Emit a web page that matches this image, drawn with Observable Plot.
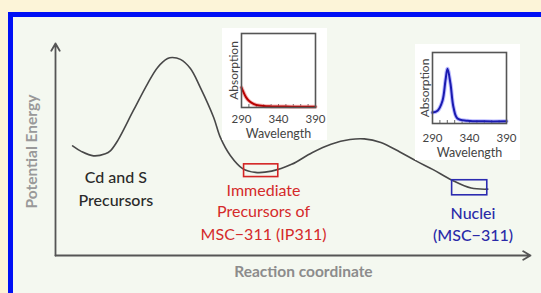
<!DOCTYPE html>
<html>
<head>
<meta charset="utf-8">
<script src="https://cdn.jsdelivr.net/npm/d3@7"></script>
<script src="https://cdn.jsdelivr.net/npm/@observablehq/plot@0.6"></script>
<style>
  html, body { margin: 0; padding: 0; }
  body { width: 541px; height: 293px; overflow: hidden; position: relative; background: #fcf4d8; font-family: Lato, "Open Sans", sans-serif; }
  #panel { position: absolute; left: 8px; top: 12px; width: 700px; height: 400px; border-left: 5px solid #0010f5; border-top: 5px solid #0010f5; background: #f4f8f0; }
  .abs { position: absolute; }
</style>
</head>
<body>
<div id="panel"></div>
<div id="main" class="abs" style="left:0;top:0"></div>
<div id="inset1" class="abs" style="left:222px;top:28px"></div>
<div id="inset2" class="abs" style="left:415px;top:44px"></div>
<script>
// ---- main energy profile (arbitrary units 0-100) ----
const reactionCoord = [3.6, 5.5, 8, 10.5, 11.6, 13.1, 16.4, 19.4, 21.5, 23.6, 24.6, 26.3, 28.4, 30.5, 33.3, 34.7, 36.8, 39.4, 42.1, 45.5, 49.7, 54, 58, 62, 65, 68.5, 72.5, 76, 79.5, 83.5, 87.5, 91];
const potentialEnergy = [51.7, 49, 47, 48, 49.5, 54.2, 68.4, 81.1, 88.7, 92.9, 93.4, 92.5, 88.2, 79.2, 65.1, 55.7, 47.2, 41, 39.2, 39.8, 43, 48.5, 52.5, 54.7, 55, 53.3, 48.8, 44.5, 40.5, 35.5, 31.8, 31.3];

// highlighted states (boxes)
const stateNames = ["IP311", "MSC-311"];
const stateX1 = [39.7, 83.5];
const stateX2 = [46.9, 90.9];
const stateY1 = [37, 28.4];
const stateY2 = [43, 35.5];
const stateColors = ["#d42424", "#2b2bb0"];

// labels
const leftLabel = ["Cd and S", "Precursors"];
const leftLabelX = [12.7, 12.7];
const leftLabelY = [36.8, 25.9];
const ipLabel = ["Immediate", "Precursors of", "MSC−311 (IP311)"];
const ipLabelX = [43.8, 43.8, 43.8];
const ipLabelY = [30.7, 20.8, 9.9];
const nucLabel = ["Nuclei", "(MSC−311)"];
const nucLabelX = [87.9, 87.9];
const nucLabelY = [19.8, 9.4];

// ---- inset spectra ----
const ipWavelength = [290, 293, 296, 300, 305, 310, 320, 330, 350, 370, 390];
const ipAbsorption = [0.27, 0.2, 0.14, 0.09, 0.055, 0.035, 0.02, 0.015, 0.012, 0.01, 0.01];
const mscWavelength = [290, 296.8, 303.5, 307.6, 310.3, 314.3, 318.4, 323.8, 337.3, 360, 390];
const mscAbsorption = [0.155, 0.18, 0.32, 0.61, 0.77, 0.56, 0.225, 0.07, 0.04, 0.03, 0.03];
const wlTicks = [290, 340, 390];
const wlMinorTicks = [290, 300, 310, 320, 330, 340, 350, 360, 370, 380, 390];

const profile = reactionCoord.map((x, i) => ({x, y: potentialEnergy[i]}));
const boxes = stateNames.map((n, i) => ({n, x1: stateX1[i], x2: stateX2[i], y1: stateY1[i], y2: stateY2[i], c: stateColors[i]}));
const mk = (t, xs, ys) => t.map((s, i) => ({s, x: xs[i], y: ys[i]}));

const main = Plot.plot({
  width: 541, height: 293,
  marginLeft: 55, marginRight: 11, marginTop: 43, marginBottom: 38,
  x: {domain: [0, 100], axis: null},
  y: {domain: [0, 100], axis: null},
  style: {background: "transparent", overflow: "visible", fontFamily: "Lato, sans-serif"},
  marks: [
    Plot.arrow([{x1: 0, y1: 0, x2: 0, y2: 100}, {x1: 0, y1: 0, x2: 100, y2: 0}],
      {x1: "x1", y1: "y1", x2: "x2", y2: "y2", stroke: "#555", strokeWidth: 1.8, headLength: 7}),
    Plot.line(profile, {x: "x", y: "y", curve: "catmull-rom", stroke: "#484848", strokeWidth: 1.6}),
    Plot.rect(boxes, {x1: "x1", x2: "x2", y1: "y1", y2: "y2", stroke: "c", fill: "none", strokeWidth: 1.6}),
    Plot.text(mk(leftLabel, leftLabelX, leftLabelY), {x: "x", y: "y", text: "s", fill: "#2a2a2a", fontSize: 16, fontWeight: 500}),
    Plot.text(mk(ipLabel, ipLabelX, ipLabelY), {x: "x", y: "y", text: "s", fill: "#d42a2a", fontSize: 16}),
    Plot.text(mk(nucLabel, nucLabelX, nucLabelY), {x: "x", y: "y", text: "s", fill: "#2a2aa8", fontSize: 16, fontWeight: 500}),
    Plot.text(["Reaction coordinate"], {x: 52.2, frameAnchor: "bottom", lineAnchor: "middle", dy: 17, text: d => d, fill: "#8c8c8c", fontSize: 15.5, fontWeight: "bold"}),
    Plot.text(["Potential Energy"], {y: 49, frameAnchor: "left", textAnchor: "middle", lineAnchor: "middle", dx: -23, rotate: -90, text: d => d, fill: "#999", fontSize: 15.5, fontWeight: "bold"})
  ]
});
document.getElementById("main").append(main);

function inset({wl, ab, color, halo, w, h, ml, mr, mt, mb, tickPad, labelDy}) {
  const data = wl.map((x, i) => ({x, y: ab[i]}));
  return Plot.plot({
    width: w, height: h, marginLeft: ml, marginRight: mr, marginTop: mt, marginBottom: mb,
    x: {domain: [290, 390], label: null},
    y: {domain: [0, 1], axis: null},
    style: {background: "#ffffff", overflow: "visible", fontFamily: "Lato, sans-serif", color: "#444"},
    marks: [
      Plot.axisX({ticks: wlMinorTicks, tickSize: -3, text: null, label: null, stroke: "#666"}),
      Plot.axisX({ticks: wlTicks, tickSize: 0, tickPadding: tickPad - 1, fontSize: 11.5, label: null, fill: "#444"}),
      Plot.line(data, {x: "x", y: "y", curve: "catmull-rom", stroke: halo, strokeWidth: 4, strokeOpacity: 0.6}),
      Plot.line(data, {x: "x", y: "y", curve: "catmull-rom", stroke: color, strokeWidth: 2}),
      Plot.frame({stroke: "#555", strokeWidth: 1.6}),
      Plot.text(["Wavelength"], {frameAnchor: "bottom", lineAnchor: "middle", dy: labelDy, text: d => d, fill: "#444", fontSize: 12.5}),
      Plot.text(["Absorption"], {frameAnchor: "left", textAnchor: "middle", lineAnchor: "middle", dx: -7, rotate: -90, text: d => d, fill: "#444", fontSize: 12})
    ]
  });
}

document.getElementById("inset1").append(inset({
  wl: ipWavelength, ab: ipAbsorption, color: "#b80000", halo: "#f08a8a",
  w: 105, h: 112, ml: 19, mr: 12, mt: 5, mb: 33, tickPad: 8, labelDy: 26
}));
document.getElementById("inset2").append(inset({
  wl: mscWavelength, ab: mscAbsorption, color: "#1a1ab0", halo: "#8c8cff",
  w: 105, h: 116, ml: 17, mr: 14, mt: 8, mb: 37, tickPad: 11, labelDy: 29
}));
</script>
</body>
</html>
